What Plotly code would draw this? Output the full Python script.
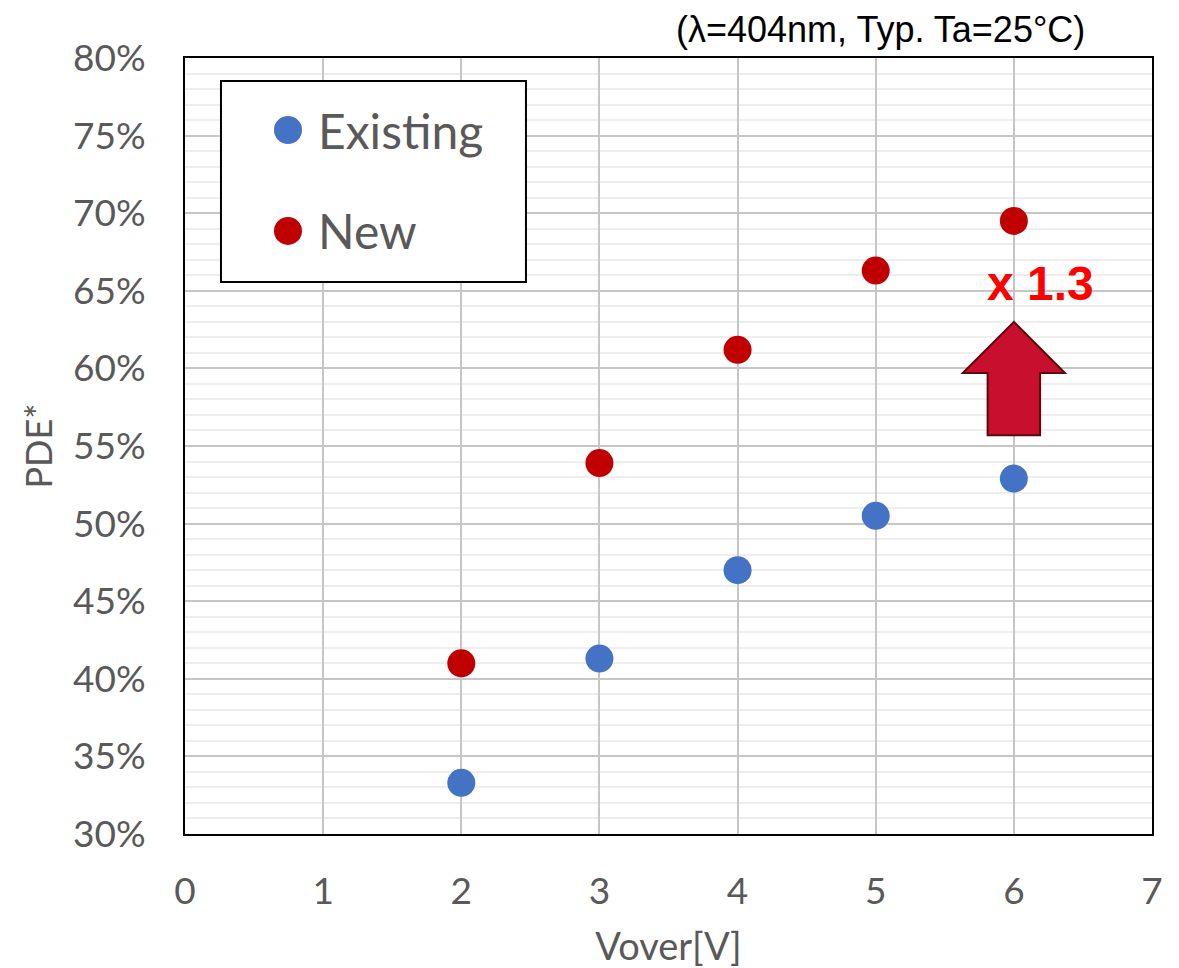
import plotly.graph_objects as go

vover = [2, 3, 4, 5, 6]
existing = [0.333, 0.413, 0.470, 0.505, 0.529]
new = [0.410, 0.539, 0.612, 0.663, 0.695]
x_ticks = [0, 1, 2, 3, 4, 5, 6, 7]
series_names = ["Existing", "New"]
colors = ["#4472C4", "#C00000"]

GRAY = "#595959"
FONT = "Lato"

fig = go.Figure()
for name, vals, col in zip(series_names, [existing, new], colors):
    fig.add_trace(go.Scatter(x=vover, y=vals, mode="markers", name=name,
                             marker=dict(size=28, color=col, line=dict(width=0)),
                             showlegend=False))

# Manual legend (box, markers, labels)
fig.add_shape(type="rect", xref="paper", yref="paper", x0=0.0372, x1=0.3526,
              y0=0.7113, y1=0.9704, line=dict(color="black", width=2),
              fillcolor="white", layer="above")
for i, (name, col) in enumerate(zip(series_names, colors)):
    yc = 0.9072 - i * 0.1301
    fig.add_shape(type="circle", xref="paper", yref="paper",
                  xsizemode="pixel", ysizemode="pixel", xanchor=0.1065, yanchor=yc,
                  x0=-14, x1=14, y0=-14, y1=14, fillcolor=col,
                  line=dict(width=0), layer="above")
    fig.add_annotation(x=0.1355, y=yc, xref="paper", yref="paper", text=name,
                       showarrow=False, xanchor="left", yanchor="middle",
                       font=dict(family=FONT, size=48, color=GRAY))

# Arrow
fig.add_shape(type="path", xref="x", yref="y",
              path="M 6 0.630 L 5.63 0.597 L 5.81 0.597 L 5.81 0.557 "
                   "L 6.19 0.557 L 6.19 0.597 L 6.37 0.597 Z",
              fillcolor="#C8102E", line=dict(color="#5A0A0A", width=2), layer="above")
fig.add_annotation(x=6.19, y=0.655, xref="x", yref="y", text="<b>x 1.3</b>",
                   showarrow=False, xanchor="center", yanchor="middle",
                   font=dict(family="Liberation Sans", size=48, color="#FF0000"))

fig.add_annotation(x=(880 - 185) / 967, y=(834 - 30) / 776, xref="paper", yref="paper",
                   text="(λ=404nm, Typ. Ta=25°C)", showarrow=False, borderpad=0,
                   xanchor="center", yanchor="middle",
                   font=dict(family="Liberation Sans", size=36, color="black"))

fig.update_layout(
    width=1171, height=960,
    margin=dict(l=177, r=27, t=50, b=134),
    paper_bgcolor="white", plot_bgcolor="white",
    font=dict(family=FONT, color=GRAY),
    xaxis=dict(range=[0, 7], tickvals=x_ticks, showgrid=True, gridcolor="#C6C6C6",
               gridwidth=2, zeroline=False, showline=True, mirror=True,
               linecolor="black", linewidth=2, ticks="", ticklabelstandoff=24,
               automargin=False,
               tickfont=dict(family=FONT, size=37, color=GRAY),
               title=dict(text="Vover[V]", font=dict(family=FONT, size=38, color=GRAY),
                          standoff=24)),
    yaxis=dict(range=[0.30, 0.80], dtick=0.05, tickformat=".0%", showgrid=True,
               gridcolor="#C6C6C6", gridwidth=2, zeroline=False, showline=True,
               mirror=True, linecolor="black", linewidth=2, ticks="",
               ticklabelstandoff=30, automargin=False,
               minor=dict(dtick=0.01, showgrid=True, gridcolor="#EEEEEE", gridwidth=2),
               tickfont=dict(family=FONT, size=37, color=GRAY),
               title=dict(text="PDE*", font=dict(family=FONT, size=36, color=GRAY),
                          standoff=9)),
)

fig.write_html("out.html")
